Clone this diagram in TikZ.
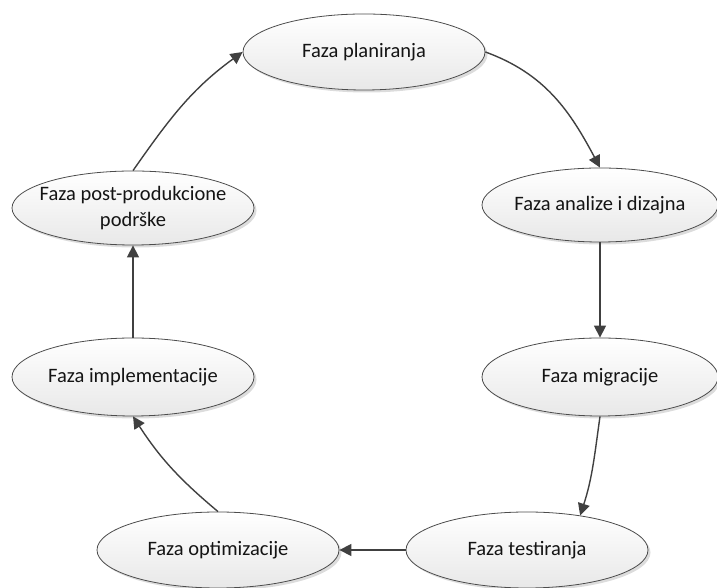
\documentclass[tikz,border=0pt]{standalone}
\usepackage{fontspec}
\setmainfont{Carlito}
\usetikzlibrary{shapes.geometric,arrows.meta,shadows}
\begin{document}
\begin{tikzpicture}[x=1pt,y=1pt,
  phase/.style={ellipse, draw=black!70, line width=0.8pt, top color=white, bottom color=black!9,
    minimum width=242pt, minimum height=76pt, inner sep=0pt,
    drop shadow={shadow xshift=2.5pt, shadow yshift=-2.5pt, opacity=0.3, fill=black!45}},
  ptext/.style={align=center, font=\fontsize{20.5}{26}\selectfont, text=black!92, inner sep=0pt},
  conn/.style={draw=black!75, line width=1.4pt, -{Triangle[length=12pt,width=12pt]}}]
\useasboundingbox (0,0) rectangle (717,588);
\node[phase, label={[ptext]center:Faza planiranja}] (p) at (364,536) {};
\node[phase, minimum width=236pt, minimum height=74pt, label={[ptext]center:Faza analize i dizajna}] (a) at (600,383) {};
\node[phase, minimum width=236pt, minimum height=78pt, label={[ptext]center:Faza migracije}] (m) at (600,211) {};
\node[phase, label={[ptext]center:Faza testiranja}] (t) at (527,38) {};
\node[phase, label={[ptext]center:Faza optimizacije}] (o) at (218,38) {};
\node[phase, minimum height=78pt, label={[ptext]center:Faza implementacije}] (i) at (133,211) {};
\node[phase, minimum height=74pt, label={[ptext]center:Faza post-produkcione\\podrške}] (pp) at (133,380) {};

\draw[conn] (pp.north) to[out=55,in=216] (p.west);
\draw[conn] (p.east) to[out=-20,in=118] (a.north);
\draw[conn] (a.south) -- (m.north);
\draw[conn] (m.south) to[out=-98,in=72] (t.33);
\draw[conn] (t.west) -- (o.east);
\draw[conn] (o.north) to[out=140,in=-57] (i.south);
\draw[conn] (i.north) -- (pp.south);
\end{tikzpicture}
\end{document}
